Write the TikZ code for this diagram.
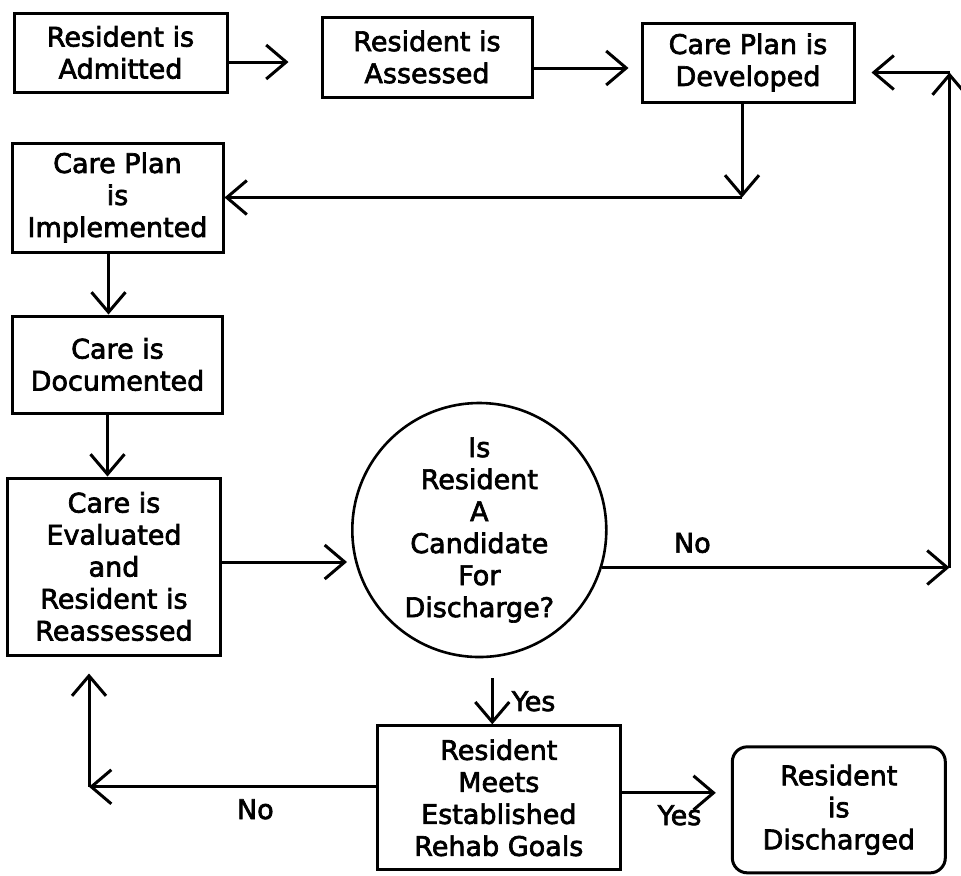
\documentclass[tikz,border=0pt]{standalone}
\usepackage{fontspec}
\setmainfont[FakeBold=2.5]{DejaVu Sans}
\usetikzlibrary{positioning,arrows.meta}

\begin{document}
\begin{tikzpicture}[
	main/.style={rectangle, draw=black, line width=1.5pt, align=center, inner sep=2pt, font=\fontsize{13.5pt}{16pt}\selectfont},
	decision/.style={circle, draw=black, line width=1.3pt, align=center, inner sep=0pt, minimum size=127pt, font=\fontsize{13.5pt}{16pt}\selectfont},
	lbl/.style={font=\fontsize{13.5pt}{16pt}\selectfont, inner sep=4pt},
	arr/.style={line width=1.5pt, -{Straight Barb[length=10pt, width=17pt]}}
	]
	\useasboundingbox (0,0) rectangle (480.5pt,-437.5pt);

		\node (admit) [main, minimum width=106.5pt, minimum height=39.5pt] at (60.25pt,-26.25pt) {Resident is\\Admitted};
			\node (assess) [main, minimum width=105pt, minimum height=40pt, right=46pt of admit, yshift=-2.25pt] {Resident is\\Assessed};
			\node (dev) [main, minimum width=106pt, minimum height=39.5pt, right=53.5pt of assess, yshift=-2.75pt] {Care Plan is\\Developed};
		\node (impl) [main, minimum width=105.5pt, minimum height=54.5pt, below=24pt of admit, xshift=-1.5pt] {Care Plan\\is\\Implemented};
		\node (doc) [main, minimum width=105pt, minimum height=48.5pt, below=30.5pt of impl] {Care is\\Documented};
		\node (eval) [main, minimum width=106.5pt, minimum height=88.5pt, below=31pt of doc, xshift=-1.75pt] {Care is\\Evaluated\\and\\Resident is\\Reassessed};
			\node (cand) [decision, right=64.5pt of eval, yshift=18.25pt] {Is\\Resident\\A\\Candidate\\For\\Discharge?};
			\node (meets) [main, minimum width=121.5pt, minimum height=72pt, below=33pt of cand, xshift=9.75pt] {Resident\\Meets\\Established\\Rehab Goals};
			\node (disch) [main, rounded corners=7.5pt, minimum width=106.5pt, minimum height=63pt, right=54.5pt of meets, yshift=-6pt] {Resident\\is\\Discharged};

	% top row
	\coordinate (a1) at ([yshift=-4.75pt]admit.east);
	\coordinate (a2) at ([yshift=-5.5pt]assess.east);
	\draw [arr, shorten >=16pt] (a1) -- (a1 -| assess.west);
	\draw [arr, shorten >=6pt] (a2) -- (a2 -| dev.west);

	% developed back to implemented
	\coordinate (c1) at ([xshift=-3pt]dev.south |- impl.east);
	\draw [arr] ([xshift=-3pt]dev.south) -- (c1);
	\draw [arr] (c1) -- (impl.east);

	% left column
	\draw [arr] ([xshift=-4.5pt]impl.south) -- ([xshift=-4.5pt]impl.south |- doc.north);
	\draw [arr] ([xshift=-5pt]doc.south) -- ([xshift=-5pt]doc.south |- eval.north);
	\coordinate (e1) at ([yshift=2.25pt]eval.east);
	\draw [arr, shorten >=2pt] (e1) -- (e1 -| cand.west);

	% no: back to care plan
	\coordinate (rtop) at ([xshift=47pt,yshift=-5pt]dev.east);
	\coordinate (rbot) at (rtop |- cand.-17);
	\draw [arr] (cand.-17) -- node[lbl, above=2.5pt, pos=0.26] {No} (rbot);
	\draw [arr] (rbot) -- (rtop);
	\draw [arr, shorten >=8pt] (rtop) -- (rtop -| dev.east);

	% yes: goals
	\draw [arr] ([xshift=6.5pt,yshift=-10pt]cand.south) -- node[lbl, right=8pt, inner sep=1pt] {Yes} ([xshift=6.5pt]cand.south |- meets.north);

	% goals: no / yes
	\coordinate (m1) at ([yshift=5.5pt]meets.west);
	\coordinate (c3) at ([xshift=-12.5pt]eval.south |- m1);
	\draw [arr] (m1) -- node[lbl, below=1.5pt, pos=0.42] {No} (c3);
	\draw [arr, shorten >=8.5pt] (c3) -- (c3 |- eval.south);
	\coordinate (m2) at ([yshift=2.5pt]meets.east);
	\draw [arr, shorten >=7.5pt] (m2) -- node[lbl, below=1.5pt, pos=0.53] {Yes} (m2 -| disch.west);

	\end{tikzpicture}
\end{document}
